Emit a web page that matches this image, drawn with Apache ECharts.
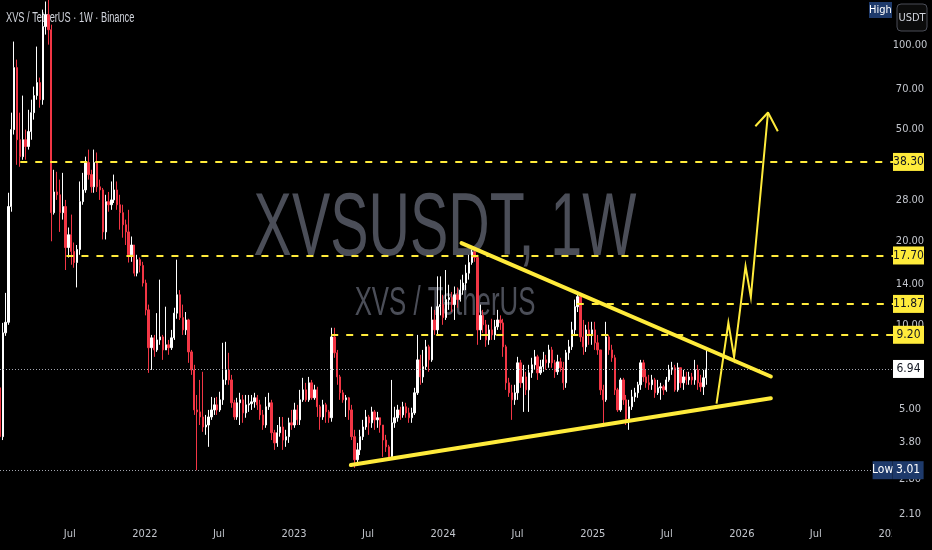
<!DOCTYPE html>
<html>
<head>
<meta charset="utf-8">
<script src="https://cdn.jsdelivr.net/npm/echarts@6/dist/echarts.min.js"></script>
<style>
html,body{margin:0;padding:0;background:#000;}
#chart{width:932px;height:550px;}
</style>
</head>
<body>
<div id="chart"></div>
<script>
// ---------- DATA (weekly XVS/USDT, Binance) ----------
const firstWeek = '2021-01-11';
const firstOpen = 5.94;
const closes = [
3.97,9.35,10.2,26.5,50.0,83.4,46.0,40.0,46.0,43.5,
49.2,57.5,66.2,73.7,64.0,117,129,114,25.2,29.9,
29.2,25.2,26.5,18.9,21.0,18.3,16.7,18.6,27.6,30.4,
38.1,34.5,31.2,38.1,31.2,30.4,21.5,27.6,26.9,28.0,
30.4,26.9,25.2,22.8,21.5,17.8,19.3,15.3,17.1,16.3,
14.1,11.3,8.27,8.97,8.12,8.82,9.04,8.12,8.47,8.27,
8.97,11.0,12.8,10.6,9.58,10.4,7.99,6.89,4.95,4.87,
4.67,4.30,4.37,4.67,4.95,5.16,4.95,5.38,6.34,6.89,
6.34,5.25,4.67,5.25,5.38,4.83,5.16,5.21,5.29,
5.47,5.16,4.75,4.37,5.08,5.25,4.10,3.77,4.10,4.30,3.86,3.97,
4.45,4.37,4.95,4.56,5.38,5.84,5.38,6.19,5.47,5.84,
5.08,4.67,5.16,4.87,4.64,9.04,7.93,6.50,5.70,5.38,
5.47,4.95,3.97,3.28,3.56,3.97,4.30,4.67,4.45,4.87,
4.56,4.64,4.37,3.86,3.65,3.36,4.45,4.64,4.95,4.75,
5.08,4.83,4.64,4.83,5.70,7.48,6.50,7.07,8.33,7.48,
10.4,9.58,11.6,11.8,10.6,12.3,12.5,11.8,12.8,12.3,
13.3,14.1,15.3,16.7,18.2,17.4,9.58,10.8,9.99,8.82,
9.58,9.19,9.83,10.4,10.15,8.33,6.19,5.70,5.38,5.70,
7.30,6.19,6.50,5.84,6.72,7.18,7.67,6.72,7.07,7.48,
7.30,8.12,7.30,6.78,7.36,7.01,6.19,7.93,8.33,9.58,
11.6,12.6,9.04,8.33,9.58,9.19,9.58,8.61,8.12,5.84,
5.38,9.04,8.12,7.61,5.84,4.95,6.34,5.38,4.56,5.08,
5.51,5.70,6.09,7.30,6.50,6.19,6.09,6.34,5.70,5.94,
5.99,5.84,6.34,6.89,7.01,5.84,7.01,6.19,6.50,6.34,
6.50,6.34,6.89,6.19,5.99,6.45,6.94
];
const highs = [
6.09,10.15,13.0,29.7,57.5,103.4,89.1,57.5,66.2,50.0,
58.9,64.0,71.3,99.2,76.8,134.6,143.9,146.2,118.9,35.9,
35.3,33.1,35.0,28.0,22.3,24.8,19.7,19.3,32.6,35.0,
40.0,42.4,35.9,42.4,41.4,33.1,30.9,29.2,29.9,32.6,
34.5,32.6,29.2,26.9,23.8,25.8,20.7,19.3,17.8,17.4,
16.8,14.5,11.8,9.19,9.19,11.0,14.5,9.19,11.6,8.82,
9.58,11.5,17.1,13.3,11.8,11.1,10.5,8.12,7.18,5.60,
6.34,6.78,4.75,4.95,5.51,5.47,5.51,5.75,8.61,8.68,
7.93,6.61,5.38,5.47,5.70,5.60,5.60,5.60,5.60,
5.70,5.60,5.38,4.95,5.51,5.70,5.38,4.20,4.37,4.67,4.67,4.20,
4.64,4.95,5.25,5.16,5.84,6.45,6.19,6.50,6.34,6.09,
5.99,5.16,5.38,5.25,4.95,9.75,9.75,8.12,6.61,5.84,
5.60,5.51,5.16,4.20,3.77,4.20,4.56,4.95,4.75,5.08,
4.95,4.87,4.64,4.37,4.03,3.71,6.34,5.08,5.16,5.08,
5.29,5.25,5.04,5.04,5.94,9.19,7.80,8.12,8.82,8.47,
11.6,11.3,14.9,14.9,12.8,15.7,13.9,13.1,13.7,13.6,
14.5,15.1,16.4,17.8,18.6,18.9,17.8,11.8,11.3,10.4,
9.99,10.5,10.4,11.3,10.8,10.5,8.47,6.45,6.09,6.09,
7.67,7.48,7.18,6.78,7.18,7.61,8.12,7.80,7.48,7.99,
7.80,8.47,8.33,7.48,7.80,7.61,7.36,8.12,8.82,10.24,
12.3,13.0,12.8,10.4,9.99,10.24,10.24,10.24,9.19,8.12,
6.09,10.24,9.19,8.47,7.80,5.94,6.45,6.45,5.60,5.38,
5.84,5.94,6.24,7.48,7.48,6.89,6.61,6.61,6.45,6.34,
6.19,6.09,6.50,7.18,7.36,7.18,7.30,7.01,6.89,6.78,
6.78,6.72,7.48,7.18,6.61,6.89,8.12
];
const lows = [
3.65,3.86,9.12,9.99,25.4,48.0,37.4,36.8,39.0,39.0,
42.4,46.0,54.3,64.0,59.9,61.4,109.5,100.8,19.9,24.8,
28.0,21.5,23.8,15.7,17.4,16.4,16.0,13.6,17.8,26.9,
29.7,33.1,29.7,29.7,29.9,28.0,20.2,20.2,25.4,25.8,
27.3,25.8,21.9,20.5,19.3,16.7,16.8,14.9,14.9,15.4,
13.7,10.8,6.72,6.89,7.67,7.99,8.47,7.48,8.12,7.80,
8.12,8.82,10.5,10.4,9.19,9.19,7.30,6.61,4.75,3.01,
4.37,4.13,4.03,3.65,4.56,4.75,4.75,4.87,5.16,6.09,
6.09,5.04,4.56,4.56,4.37,4.45,4.64,4.87,4.95,
5.04,4.95,4.56,4.20,4.27,4.95,3.86,3.56,3.65,3.97,3.56,3.65,
3.77,4.20,4.27,4.37,4.37,5.29,5.29,5.29,5.38,5.38,
4.67,4.20,4.56,4.45,4.45,4.49,7.61,6.09,5.38,5.25,
4.67,4.56,3.86,3.07,3.20,3.41,3.86,4.20,4.03,4.27,
4.20,4.27,4.10,3.36,3.50,3.28,3.28,4.27,4.49,4.56,
4.64,4.64,4.45,4.45,4.75,5.60,6.09,6.19,6.89,6.78,
7.36,9.19,9.19,10.8,9.99,10.4,11.3,11.1,10.4,11.5,
12.1,12.8,13.3,14.5,16.4,16.8,8.47,8.82,9.35,8.33,
8.47,8.82,8.82,9.58,9.58,7.67,5.84,5.51,4.56,5.16,
5.38,5.94,4.87,5.60,4.87,6.45,6.89,6.34,6.61,6.78,
6.89,7.01,7.01,6.45,6.61,6.78,5.84,5.94,7.48,8.12,
9.19,11.1,8.68,7.80,7.99,8.47,8.47,8.12,7.80,5.60,
4.30,5.29,7.80,7.36,5.60,4.87,4.87,5.16,4.37,4.20,
4.95,5.29,5.47,5.84,6.24,5.94,5.84,5.84,5.47,5.60,
5.38,5.60,5.75,6.24,6.61,5.75,5.75,5.94,5.84,6.09,
6.09,6.09,6.09,5.84,5.75,5.60,6.09
];

// price-scale tick labels
const priceTicks = [100, 70, 50, 28, 20, 14, 10, 5, 3.8, 2.8, 2.1];

// horizontal levels (price, first date of the ray)
const levelPrices = [38.30, 17.70, 11.87, 9.20];
const levelStarts = ['2021-03-02', '2021-06-23', '2024-11-23', '2023-04-02'];
const lastPrice = 6.94;
const lowPrice = 3.01;

// drawn annotations: [date, price]
const upperTrend = [['2024-02-15', 19.6], ['2026-03-13', 6.52]];
const lowerTrend = [['2023-05-20', 3.14], ['2026-03-13', 5.45]];
const arrowPath = [['2025-10-31', 5.21], ['2025-11-29', 10.17], ['2025-12-13', 7.65],
                   ['2026-01-10', 16.2], ['2026-01-23', 12.56], ['2026-03-06', 57.6]];
const arrowHead = [['2026-02-03', 51.4], ['2026-03-06', 57.6], ['2026-03-30', 49.3]];

// ---------- CHART ----------
const DAY = 86400000;
const t0 = Date.parse(firstWeek);
const candles = closes.map((c, i) => [t0 + i * 7 * DAY, i === 0 ? firstOpen : closes[i - 1], c, lows[i], highs[i]]);
const pts = arr => arr.map(p => [Date.parse(p[0]), p[1]]);

const X_MIN = Date.parse('2021-01-11T09:36:00Z');
const X_MAX = Date.parse('2027-01-05T21:36:00Z');
const FONT = '"Liberation Sans Narrow", "DejaVu Sans Condensed", "Liberation Sans", sans-serif';
const YEL = '#ffeb3b';
const MONTHS = ['Jan','Feb','Mar','Apr','May','Jun','Jul','Aug','Sep','Oct','Nov','Dec'];

const tickLines = priceTicks.map(v => ({
  yAxis: v,
  lineStyle: { color: 'rgba(0,0,0,0)', width: 1, opacity: 1 },
  label: { show: true, formatter: v.toFixed(2), position: 'end', distance: 17, align: 'center',
           color: '#c2c5cc', fontSize: 11, fontFamily: FONT, opacity: 1 }
}));

const boxRich = (bg, fg) => ({ b: { backgroundColor: bg, color: fg, width: 31, align: 'center',
  padding: [3, 0, 3, 0], fontSize: 12, lineHeight: 12, fontFamily: FONT } });

const levelLines = levelPrices.map((v, k) => [
  { coord: [Date.parse(levelStarts[k]), v],
    lineStyle: { color: YEL, width: 2, type: [7, 8] },
    label: { show: true, position: 'end', distance: 0, formatter: '{b|' + v.toFixed(2) + '}', rich: boxRich(YEL, '#131722') } },
  { coord: [X_MAX, v] }
]);

const lastLine = {
  yAxis: lastPrice,
  lineStyle: { color: '#a3a6af', width: 1, type: [1, 2] },
  label: { position: 'end', distance: 0, formatter: '{b|' + lastPrice.toFixed(2) + '}', rich: boxRich('#ffffff', '#131722') }
};

const lowLine = [
  { coord: [X_MIN, lowPrice],
    lineStyle: { color: '#a3a6af', width: 1, type: [1, 2] },
    label: { position: 'end', distance: 0, formatter: '{a|Low}{b|' + lowPrice.toFixed(2) + '}',
      rich: {
        a: { backgroundColor: '#1e3a6b', color: '#ffffff', width: 20, align: 'center', padding: [3, 0, 3, 0], fontSize: 12, lineHeight: 12, fontFamily: FONT },
        b: { backgroundColor: '#1e3a6b', color: '#ffffff', width: 31, align: 'center', padding: [3, 0, 3, 0], fontSize: 12, lineHeight: 12, fontFamily: FONT }
      } } },
  { coord: [Date.parse('2026-11-17'), lowPrice] }
];

const chart = echarts.init(document.getElementById('chart'), null, { renderer: 'canvas' });
chart.setOption({
  backgroundColor: '#000000',
  animation: false,
  useUTC: true,
  grid: { left: 0, right: 39, top: 0, bottom: 26, containLabel: false, outerBoundsMode: 'none' },
  xAxis: {
    type: 'time', min: X_MIN, max: X_MAX,
    splitNumber: 12, minInterval: 180 * DAY, maxInterval: 185 * DAY,
    axisLine: { show: false }, axisTick: { show: false }, splitLine: { show: false },
    axisLabel: {
      formatter: v => { const d = new Date(v); const m = d.getUTCMonth(); return m === 0 ? String(d.getUTCFullYear()) : MONTHS[m]; },
      color: '#c2c5cc', fontSize: 11, fontFamily: FONT, margin: 5, hideOverlap: false
    }
  },
  yAxis: {
    type: 'log', logBase: 10, min: 1.931, max: 145.7, position: 'right',
    axisLine: { show: false }, axisTick: { show: false }, axisLabel: { show: false }, splitLine: { show: false }
  },
  graphic: [
    { type: 'text', x: 445, y: 230, scaleX: 0.645, z: 0, silent: true,
      style: { text: 'XVSUSDT, 1W', fontSize: 89, fontFamily: '"Liberation Sans", Arial, sans-serif', fill: '#4b4e58',
               textAlign: 'center', textVerticalAlign: 'middle', align: 'center', verticalAlign: 'middle' } },
    { type: 'text', x: 445, y: 304, scaleX: 0.645, z: 0, silent: true,
      style: { text: 'XVS / TetherUS', fontSize: 40, fontFamily: '"Liberation Sans", Arial, sans-serif', fill: '#4b4e58',
               textAlign: 'center', textVerticalAlign: 'middle', align: 'center', verticalAlign: 'middle' } },
    { type: 'text', x: 6, y: 18, scaleX: 0.66, z: 0, silent: true,
      style: { text: 'XVS / TetherUS · 1W · Binance', fontSize: 14, fontFamily: '"Liberation Sans", Arial, sans-serif', fill: '#d1d4dc',
               textAlign: 'left', textVerticalAlign: 'middle', align: 'left', verticalAlign: 'middle' } },
    { type: 'rect', shape: { x: 892, y: 524, width: 40, height: 26 }, style: { fill: '#000000' }, z: 100, silent: true },
    { type: 'rect', shape: { x: 869, y: 2, width: 23, height: 16 }, style: { fill: '#1e3a6b' }, z: 100, silent: true },
    { type: 'text', x: 880.5, y: 10, z: 101, silent: true,
      style: { text: 'High', fontSize: 11, fontFamily: FONT, fill: '#ffffff', textAlign: 'center', textVerticalAlign: 'middle', align: 'center', verticalAlign: 'middle' } },
    { type: 'rect', shape: { x: 897, y: 4, width: 30, height: 27, r: 4 }, style: { fill: '#0b0b0b', stroke: '#4a4d57', lineWidth: 1 }, z: 100, silent: true },
    { type: 'text', x: 912, y: 18, z: 101, silent: true,
      style: { text: 'USDT', fontSize: 11, fontFamily: FONT, fill: '#d1d4dc', textAlign: 'center', textVerticalAlign: 'middle', align: 'center', verticalAlign: 'middle' } }
  ],
  series: [
    {
      name: 'XVSUSDT', type: 'candlestick', data: candles,
      encode: { x: 0, y: [1, 2, 3, 4] },
      barWidth: 1.8,
      itemStyle: { color: '#ffffff', color0: '#f23645', borderColor: '#ffffff', borderColor0: '#f23645', borderWidth: 1 },
      markLine: {
        silent: true, symbol: ['none', 'none'], animation: false,
        data: [...tickLines, lowLine, lastLine, ...levelLines]
      }
    },
    { name: 'upper', type: 'line', data: pts(upperTrend), symbol: 'none', silent: true, z: 6,
      lineStyle: { color: YEL, width: 4, cap: 'round' } },
    { name: 'lower', type: 'line', data: pts(lowerTrend), symbol: 'none', silent: true, z: 6,
      lineStyle: { color: YEL, width: 4, cap: 'round' } },
    { name: 'arrow', type: 'line', data: pts(arrowPath), symbol: 'none', silent: true, z: 6,
      lineStyle: { color: YEL, width: 2, join: 'miter' } },
    { name: 'arrowHead', type: 'line', data: pts(arrowHead), symbol: 'none', silent: true, z: 6,
      lineStyle: { color: YEL, width: 2 } }
  ]
});
</script>
</body>
</html>
